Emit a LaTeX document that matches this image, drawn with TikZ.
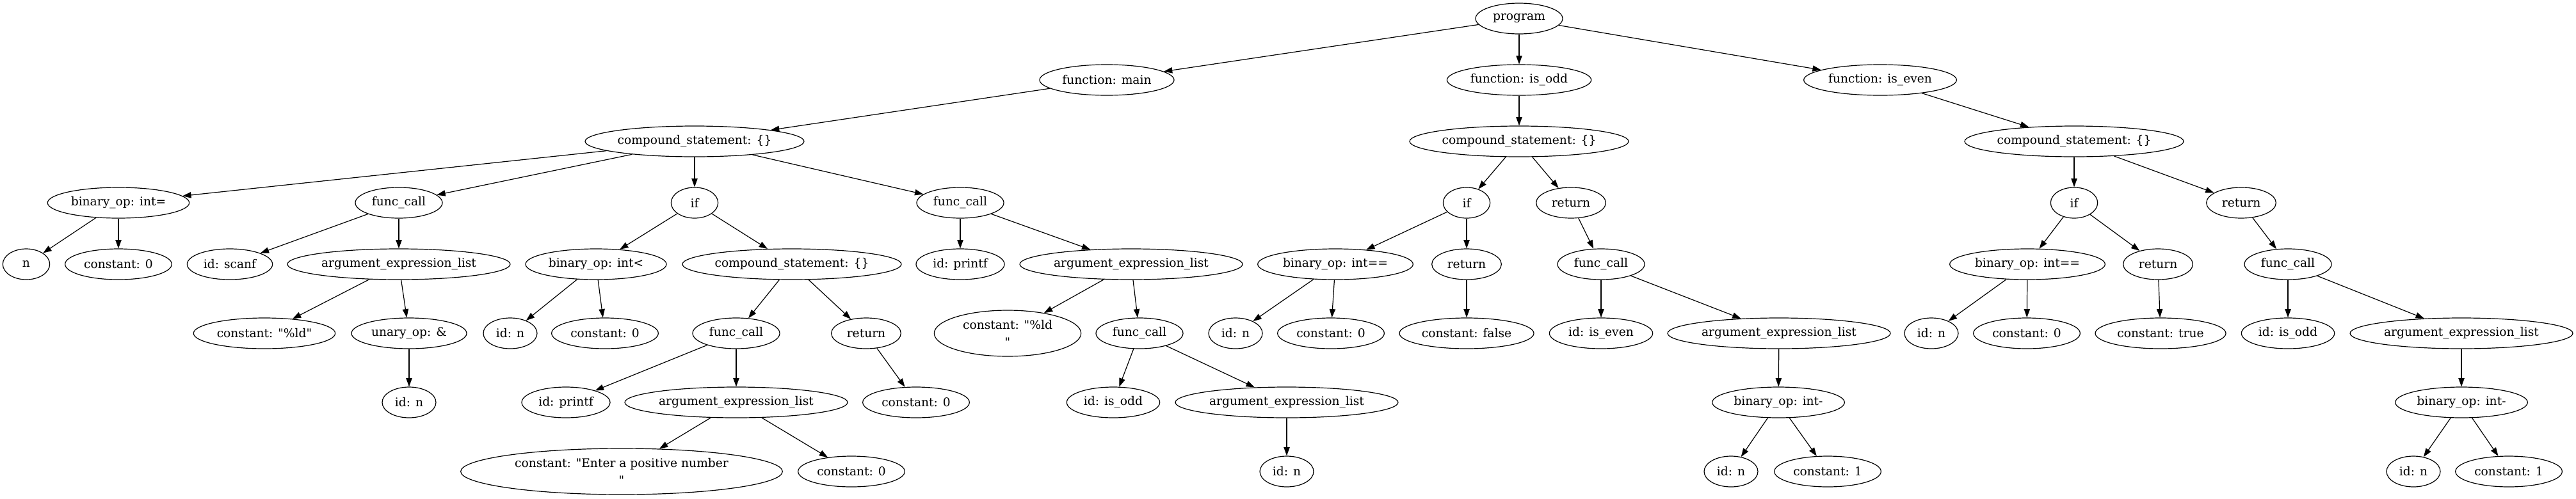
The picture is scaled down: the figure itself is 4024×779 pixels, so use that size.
\documentclass[tikz,border=0pt]{standalone}
\usepackage{fontspec}
\setmainfont{DejaVu Serif}[Ligatures=TeXOff]
\usetikzlibrary{shapes.geometric,arrows.meta}
\newcommand{\zb}[1]{\makebox[0pt]{#1}}
\begin{document}
\begin{tikzpicture}[x=0.75pt,y=-0.75pt,
  nd/.style={ellipse,draw,line width=0.9pt,inner sep=0pt,minimum height=36pt,font=\fontsize{14pt}{20pt}\selectfont},
  ndtwo/.style={nd,minimum height=54pt,align=center},
  sfc/.style={nd,minimum width=102pt},
  sael/.style={nd,minimum width=261pt},
  scs/.style={nd,minimum width=256.5pt},
  sret/.style={nd,minimum width=81.5pt},
  sczero/.style={nd,minimum width=125pt},
  sidn/.style={nd,minimum width=63pt},
  sif/.style={nd,minimum width=55pt},
  ed/.style={draw,line width=0.9pt,-{Triangle[length=10pt,width=7pt]}}]
\useasboundingbox (0,0) rectangle (4024,779);
% row 0
\node[nd,minimum width=102pt] (prog) at (2373,29) {\zb{program}};
% row 1
\node[nd,minimum width=157.5pt] (fmain) at (1729,125) {\zb{function: main}};
\node[nd,minimum width=169pt] (fodd) at (2373,125) {\zb{function: is\_odd}};
\node[nd,minimum width=179pt] (feven) at (2937,125) {\zb{function: is\_even}};
% row 2
\node[scs] (cmain) at (1085,221) {\zb{compound\_statement: \{\}}};
\node[scs] (codd) at (2373,221) {\zb{compound\_statement: \{\}}};
\node[scs] (ceven) at (3240,221) {\zb{compound\_statement: \{\}}};
% row 3
\node[nd,minimum width=166pt] (mbin) at (185,317) {\zb{binary\_op: int=}};
\node[sfc] (mfca) at (623,317) {\zb{func\_call}};
\node[sif] (mif) at (1085,317) {\zb{if}};
\node[sfc] (mfcb) at (1500,317) {\zb{func\_call}};
\node[sif] (oif) at (2291,317) {\zb{if}};
\node[sret] (oret) at (2454,317) {\zb{return}};
\node[sif] (eif) at (3240,317) {\zb{if}};
\node[sret] (eret) at (3501,317) {\zb{return}};
% row 4
\node[sif] (mn) at (41,413) {\zb{n}};
\node[sczero] (mca) at (185,413) {\zb{constant: 0}};
\node[nd,minimum width=100pt] (mscanf) at (359,413) {\zb{id: scanf}};
\node[sael] (maela) at (623,413) {\zb{argument\_expression\_list}};
\node[nd,minimum width=165pt] (mlt) at (931,413) {\zb{binary\_op: int<}};
\node[scs] (mcs) at (1237,413) {\zb{compound\_statement: \{\}}};
\node[nd,minimum width=103.5pt] (mprintfa) at (1500,413) {\zb{id: printf}};
\node[sael] (maelb) at (1767,413) {\zb{argument\_expression\_list}};
\node[nd,minimum width=182pt] (oeq) at (2086,413) {\zb{binary\_op: int==}};
\node[sret] (oretb) at (2291,413) {\zb{return}};
\node[sfc] (ofc) at (2501,413) {\zb{func\_call}};
\node[nd,minimum width=182pt] (eeq) at (3167,413) {\zb{binary\_op: int==}};
\node[sret] (eretb) at (3371,413) {\zb{return}};
\node[sfc] (efc) at (3574,413) {\zb{func\_call}};
% row 5
\node[nd,minimum width=166pt] (mld) at (413,521) {\zb{constant: "\%ld"}};
\node[nd,minimum width=135pt] (mamp) at (639,521) {\zb{unary\_op: \&}};
\node[sidn] (midn) at (797,521) {\zb{id: n}};
\node[sczero] (mcb) at (945,521) {\zb{constant: 0}};
\node[sfc] (mfcc) at (1150,521) {\zb{func\_call}};
\node[sret] (mret) at (1353,521) {\zb{return}};
\node[ndtwo,minimum width=172pt] (mldn) at (1574,521) {\zb{constant: "\%ld}\\\zb{"}};
\node[sfc] (mfcd) at (1780,521) {\zb{func\_call}};
\node[sidn] (on) at (1930,521) {\zb{id: n}};
\node[sczero] (oc) at (2079,521) {\zb{constant: 0}};
\node[nd,minimum width=157.5pt] (ofalse) at (2291,521) {\zb{constant: false}};
\node[nd,minimum width=121pt] (oiseven) at (2501,521) {\zb{id: is\_even}};
\node[sael] (oael) at (2779,521) {\zb{argument\_expression\_list}};
\node[sidn] (en) at (3017,521) {\zb{id: n}};
\node[sczero] (ec) at (3166,521) {\zb{constant: 0}};
\node[nd,minimum width=153pt] (etrue) at (3375,521) {\zb{constant: true}};
\node[nd,minimum width=109pt] (eisodd) at (3574,521) {\zb{id: is\_odd}};
\node[sael] (eael) at (3845,521) {\zb{argument\_expression\_list}};
% row 6
\node[sidn] (midnb) at (639,629) {\zb{id: n}};
\node[nd,minimum width=103.5pt] (mprintfb) at (884,629) {\zb{id: printf}};
\node[sael] (maelc) at (1150,629) {\zb{argument\_expression\_list}};
\node[sczero] (mcc) at (1431,629) {\zb{constant: 0}};
\node[nd,minimum width=109pt] (misodd) at (1739,629) {\zb{id: is\_odd}};
\node[sael] (maeld) at (2010,629) {\zb{argument\_expression\_list}};
\node[nd,minimum width=155pt] (osub) at (2778,629) {\zb{binary\_op: int-}};
\node[nd,minimum width=155pt] (esub) at (3845,629) {\zb{binary\_op: int-}};
% row 7
\node[ndtwo,minimum width=377pt] (menter) at (971,737) {\zb{constant: "Enter a positive number}\\\zb{"}};
\node[sczero] (mcd) at (1330,737) {\zb{constant: 0}};
\node[sidn] (midnc) at (2010,737) {\zb{id: n}};
\node[sidn] (onb) at (2704,737) {\zb{id: n}};
\node[sczero] (oca) at (2855,737) {\zb{constant: 1}};
\node[sidn] (enb) at (3770,737) {\zb{id: n}};
\node[sczero] (eca) at (3919,737) {\zb{constant: 1}};
% edges
\foreach \a/\b in {prog/fmain,prog/fodd,prog/feven,fmain/cmain,fodd/codd,feven/ceven,
  cmain/mbin,cmain/mfca,cmain/mif,cmain/mfcb,mbin/mn,mbin/mca,mfca/mscanf,mfca/maela,
  maela/mld,maela/mamp,mamp/midnb,mif/mlt,mif/mcs,mlt/midn,mlt/mcb,mcs/mfcc,mcs/mret,
  mfcc/mprintfb,mfcc/maelc,maelc/menter,maelc/mcd,mret/mcc,mfcb/mprintfa,mfcb/maelb,
  maelb/mldn,maelb/mfcd,mfcd/misodd,mfcd/maeld,maeld/midnc,
  codd/oif,codd/oret,oif/oeq,oif/oretb,oeq/on,oeq/oc,oretb/ofalse,oret/ofc,ofc/oiseven,ofc/oael,
  oael/osub,osub/onb,osub/oca,
  ceven/eif,ceven/eret,eif/eeq,eif/eretb,eeq/en,eeq/ec,eretb/etrue,eret/efc,efc/eisodd,efc/eael,
  eael/esub,esub/enb,esub/eca}
  \draw[ed] (\a) -- (\b);
\end{tikzpicture}
\end{document}
